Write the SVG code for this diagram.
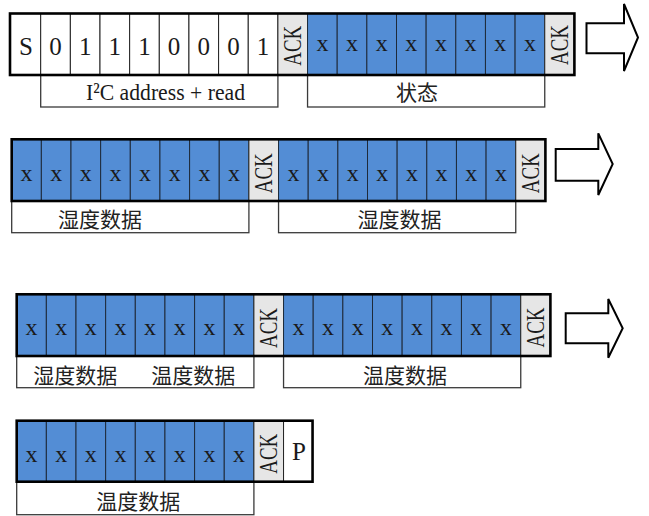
<svg xmlns="http://www.w3.org/2000/svg" width="649" height="516" viewBox="0 0 649 516">
<style>
.w{fill:#ffffff;stroke:#222;stroke-width:1}
.b{fill:#538dd5;stroke:#1e2a3a;stroke-width:1}
.a{fill:#e6e6e6;stroke:#222;stroke-width:1}
.fr{fill:none;stroke:#000;stroke-width:2.6}
.lb{fill:#fff;stroke:#3a3a3a;stroke-width:1.3}
.t{font-family:"Liberation Serif",serif;font-size:24px;text-anchor:middle;fill:#1a1a1a}
.d{font-family:"Liberation Serif",serif;font-size:25px;text-anchor:middle;fill:#1a1a1a}
.k{font-family:"Liberation Serif",serif;font-size:25px;text-anchor:middle;fill:#1a1a1a}
.cn{font-family:"Noto Sans CJK SC","Liberation Sans",sans-serif;font-size:21px;text-anchor:middle;fill:#222}
.ar{fill:#fff;stroke:#000;stroke-width:2;stroke-linejoin:miter}
</style>

<!-- label boxes -->
<g id="label-addr"><rect class="lb" x="40.7" y="75" width="237.2" height="32"/><text class="t" x="86" y="100" style="text-anchor:start" textLength="159" lengthAdjust="spacingAndGlyphs">I²C address + read</text></g>
<g id="label-status"><rect class="lb" x="307.55" y="75" width="237.2" height="32"/><text class="cn" x="417" y="99.5">状态</text></g>
<g id="label-hum1"><rect class="lb" x="11.7" y="201" width="237.2" height="31.7"/><text class="cn" x="100" y="227">湿度数据</text></g>
<g id="label-hum2"><rect class="lb" x="278.55" y="201" width="237.2" height="31.7"/><text class="cn" x="399.5" y="227">湿度数据</text></g>
<g id="label-hum-temp"><rect class="lb" x="16.7" y="356" width="237.2" height="31.7"/><text class="cn" x="75.3" y="383">湿度数据</text><text class="cn" x="193.3" y="383">温度数据</text></g>
<g id="label-temp1"><rect class="lb" x="283.55" y="356" width="237.2" height="31.7"/><text class="cn" x="405" y="383">温度数据</text></g>
<g id="label-temp2"><rect class="lb" x="16.7" y="481.7" width="237.2" height="33"/><text class="cn" x="138.3" y="509">温度数据</text></g>

<!-- row 1 -->
<g id="row1">
<rect class="w" x="10" y="13.5" width="30.7" height="61.5"/>
<rect class="w" x="40.7" y="13.5" width="29.65" height="61.5"/>
<rect class="w" x="70.35" y="13.5" width="29.65" height="61.5"/>
<rect class="w" x="100" y="13.5" width="29.65" height="61.5"/>
<rect class="w" x="129.65" y="13.5" width="29.65" height="61.5"/>
<rect class="w" x="159.3" y="13.5" width="29.65" height="61.5"/>
<rect class="w" x="188.95" y="13.5" width="29.65" height="61.5"/>
<rect class="w" x="218.6" y="13.5" width="29.65" height="61.5"/>
<rect class="w" x="248.25" y="13.5" width="29.65" height="61.5"/>
<rect class="a" x="277.9" y="13.5" width="29.65" height="61.5"/>
<rect class="b" x="307.55" y="13.5" width="29.65" height="61.5"/>
<rect class="b" x="337.2" y="13.5" width="29.65" height="61.5"/>
<rect class="b" x="366.85" y="13.5" width="29.65" height="61.5"/>
<rect class="b" x="396.5" y="13.5" width="29.65" height="61.5"/>
<rect class="b" x="426.15" y="13.5" width="29.65" height="61.5"/>
<rect class="b" x="455.8" y="13.5" width="29.65" height="61.5"/>
<rect class="b" x="485.45" y="13.5" width="29.65" height="61.5"/>
<rect class="b" x="515.1" y="13.5" width="29.65" height="61.5"/>
<rect class="a" x="544.75" y="13.5" width="29.65" height="61.5"/>
<rect class="fr" x="10" y="13.5" width="564.4" height="61.5"/>
<text class="d" x="26" y="55">S</text>
<text class="d" x="55.5" y="55">0</text>
<text class="d" x="85.2" y="55">1</text>
<text class="d" x="114.8" y="55">1</text>
<text class="d" x="144.5" y="55">1</text>
<text class="d" x="174.1" y="55">0</text>
<text class="d" x="203.8" y="55">0</text>
<text class="d" x="233.4" y="55">0</text>
<text class="d" x="263.1" y="55">1</text>
<text class="k" transform="translate(300.5,45.8) rotate(-90)" textLength="40" lengthAdjust="spacingAndGlyphs">ACK</text>
<text class="t" x="322.4" y="51">x</text>
<text class="t" x="352" y="51">x</text>
<text class="t" x="381.7" y="51">x</text>
<text class="t" x="411.3" y="51">x</text>
<text class="t" x="441" y="51">x</text>
<text class="t" x="470.6" y="51">x</text>
<text class="t" x="500.3" y="51">x</text>
<text class="t" x="529.9" y="51">x</text>
<text class="k" transform="translate(567.5,45) rotate(-90)" textLength="40" lengthAdjust="spacingAndGlyphs">ACK</text>
</g>

<!-- row 2 -->
<g id="row2">
<rect class="b" x="11.7" y="139.3" width="29.65" height="61.7"/>
<rect class="b" x="41.35" y="139.3" width="29.65" height="61.7"/>
<rect class="b" x="71" y="139.3" width="29.65" height="61.7"/>
<rect class="b" x="100.65" y="139.3" width="29.65" height="61.7"/>
<rect class="b" x="130.3" y="139.3" width="29.65" height="61.7"/>
<rect class="b" x="159.95" y="139.3" width="29.65" height="61.7"/>
<rect class="b" x="189.6" y="139.3" width="29.65" height="61.7"/>
<rect class="b" x="219.25" y="139.3" width="29.65" height="61.7"/>
<rect class="a" x="248.9" y="139.3" width="29.65" height="61.7"/>
<rect class="b" x="278.55" y="139.3" width="29.65" height="61.7"/>
<rect class="b" x="308.2" y="139.3" width="29.65" height="61.7"/>
<rect class="b" x="337.85" y="139.3" width="29.65" height="61.7"/>
<rect class="b" x="367.5" y="139.3" width="29.65" height="61.7"/>
<rect class="b" x="397.15" y="139.3" width="29.65" height="61.7"/>
<rect class="b" x="426.8" y="139.3" width="29.65" height="61.7"/>
<rect class="b" x="456.45" y="139.3" width="29.65" height="61.7"/>
<rect class="b" x="486.1" y="139.3" width="29.65" height="61.7"/>
<rect class="a" x="515.75" y="139.3" width="29.65" height="61.7"/>
<rect class="fr" x="11.7" y="139.3" width="533.7" height="61.7"/>
<text class="t" x="26.5" y="181">x</text>
<text class="t" x="56.2" y="181">x</text>
<text class="t" x="85.8" y="181">x</text>
<text class="t" x="115.5" y="181">x</text>
<text class="t" x="145.1" y="181">x</text>
<text class="t" x="174.8" y="181">x</text>
<text class="t" x="204.4" y="181">x</text>
<text class="t" x="234.1" y="181">x</text>
<text class="k" transform="translate(271.8,173.3) rotate(-90)" textLength="40" lengthAdjust="spacingAndGlyphs">ACK</text>
<text class="t" x="293.4" y="181">x</text>
<text class="t" x="323" y="181">x</text>
<text class="t" x="352.7" y="181">x</text>
<text class="t" x="382.3" y="181">x</text>
<text class="t" x="412" y="181">x</text>
<text class="t" x="441.6" y="181">x</text>
<text class="t" x="471.3" y="181">x</text>
<text class="t" x="500.9" y="181">x</text>
<text class="k" transform="translate(538.6,173.3) rotate(-90)" textLength="40" lengthAdjust="spacingAndGlyphs">ACK</text>
</g>

<!-- row 3 -->
<g id="row3">
<rect class="b" x="16.7" y="294.3" width="29.65" height="61.7"/>
<rect class="b" x="46.35" y="294.3" width="29.65" height="61.7"/>
<rect class="b" x="76" y="294.3" width="29.65" height="61.7"/>
<rect class="b" x="105.65" y="294.3" width="29.65" height="61.7"/>
<rect class="b" x="135.3" y="294.3" width="29.65" height="61.7"/>
<rect class="b" x="164.95" y="294.3" width="29.65" height="61.7"/>
<rect class="b" x="194.6" y="294.3" width="29.65" height="61.7"/>
<rect class="b" x="224.25" y="294.3" width="29.65" height="61.7"/>
<rect class="a" x="253.9" y="294.3" width="29.65" height="61.7"/>
<rect class="b" x="283.55" y="294.3" width="29.65" height="61.7"/>
<rect class="b" x="313.2" y="294.3" width="29.65" height="61.7"/>
<rect class="b" x="342.85" y="294.3" width="29.65" height="61.7"/>
<rect class="b" x="372.5" y="294.3" width="29.65" height="61.7"/>
<rect class="b" x="402.15" y="294.3" width="29.65" height="61.7"/>
<rect class="b" x="431.8" y="294.3" width="29.65" height="61.7"/>
<rect class="b" x="461.45" y="294.3" width="29.65" height="61.7"/>
<rect class="b" x="491.1" y="294.3" width="29.65" height="61.7"/>
<rect class="a" x="520.75" y="294.3" width="29.65" height="61.7"/>
<rect class="fr" x="16.7" y="294.3" width="533.7" height="61.7"/>
<text class="t" x="31.5" y="335">x</text>
<text class="t" x="61.2" y="335">x</text>
<text class="t" x="90.8" y="335">x</text>
<text class="t" x="120.5" y="335">x</text>
<text class="t" x="150.1" y="335">x</text>
<text class="t" x="179.8" y="335">x</text>
<text class="t" x="209.4" y="335">x</text>
<text class="t" x="239.1" y="335">x</text>
<text class="k" transform="translate(276.8,328) rotate(-90)" textLength="40" lengthAdjust="spacingAndGlyphs">ACK</text>
<text class="t" x="298.4" y="335">x</text>
<text class="t" x="328" y="335">x</text>
<text class="t" x="357.7" y="335">x</text>
<text class="t" x="387.3" y="335">x</text>
<text class="t" x="417" y="335">x</text>
<text class="t" x="446.6" y="335">x</text>
<text class="t" x="476.3" y="335">x</text>
<text class="t" x="505.9" y="335">x</text>
<text class="k" transform="translate(543.8,327.5) rotate(-90)" textLength="40" lengthAdjust="spacingAndGlyphs">ACK</text>
</g>

<!-- row 4 -->
<g id="row4">
<rect class="b" x="16.7" y="420.7" width="29.65" height="61"/>
<rect class="b" x="46.35" y="420.7" width="29.65" height="61"/>
<rect class="b" x="76" y="420.7" width="29.65" height="61"/>
<rect class="b" x="105.65" y="420.7" width="29.65" height="61"/>
<rect class="b" x="135.3" y="420.7" width="29.65" height="61"/>
<rect class="b" x="164.95" y="420.7" width="29.65" height="61"/>
<rect class="b" x="194.6" y="420.7" width="29.65" height="61"/>
<rect class="b" x="224.25" y="420.7" width="29.65" height="61"/>
<rect class="a" x="253.9" y="420.7" width="29.65" height="61"/>
<rect class="w" x="283.55" y="420.7" width="29" height="61"/>
<rect class="fr" x="16.7" y="420.7" width="295.85" height="61"/>
<text class="t" x="31.5" y="461.7">x</text>
<text class="t" x="61.2" y="461.7">x</text>
<text class="t" x="90.8" y="461.7">x</text>
<text class="t" x="120.5" y="461.7">x</text>
<text class="t" x="150.1" y="461.7">x</text>
<text class="t" x="179.8" y="461.7">x</text>
<text class="t" x="209.4" y="461.7">x</text>
<text class="t" x="239.1" y="461.7">x</text>
<text class="k" transform="translate(276.8,453.7) rotate(-90)" textLength="40" lengthAdjust="spacingAndGlyphs">ACK</text>
<text class="d" x="299" y="460">P</text>
</g>

<!-- connectors (continuation arrows) -->
<g id="connectors">
<polygon class="ar" points="586.5,23.3 624,23.3 624,4 638,37.5 624,71 624,53.3 586.5,53.3"/>
<polygon class="ar" points="555.7,149 598.3,149 598.3,133.3 612.7,164 598.3,195 598.3,180.7 555.7,180.7"/>
<polygon class="ar" points="565.7,313.3 608.3,313.3 608.3,299 622.7,328.3 608.3,357.7 608.3,343.3 565.7,343.3"/>
</g>
</svg>
